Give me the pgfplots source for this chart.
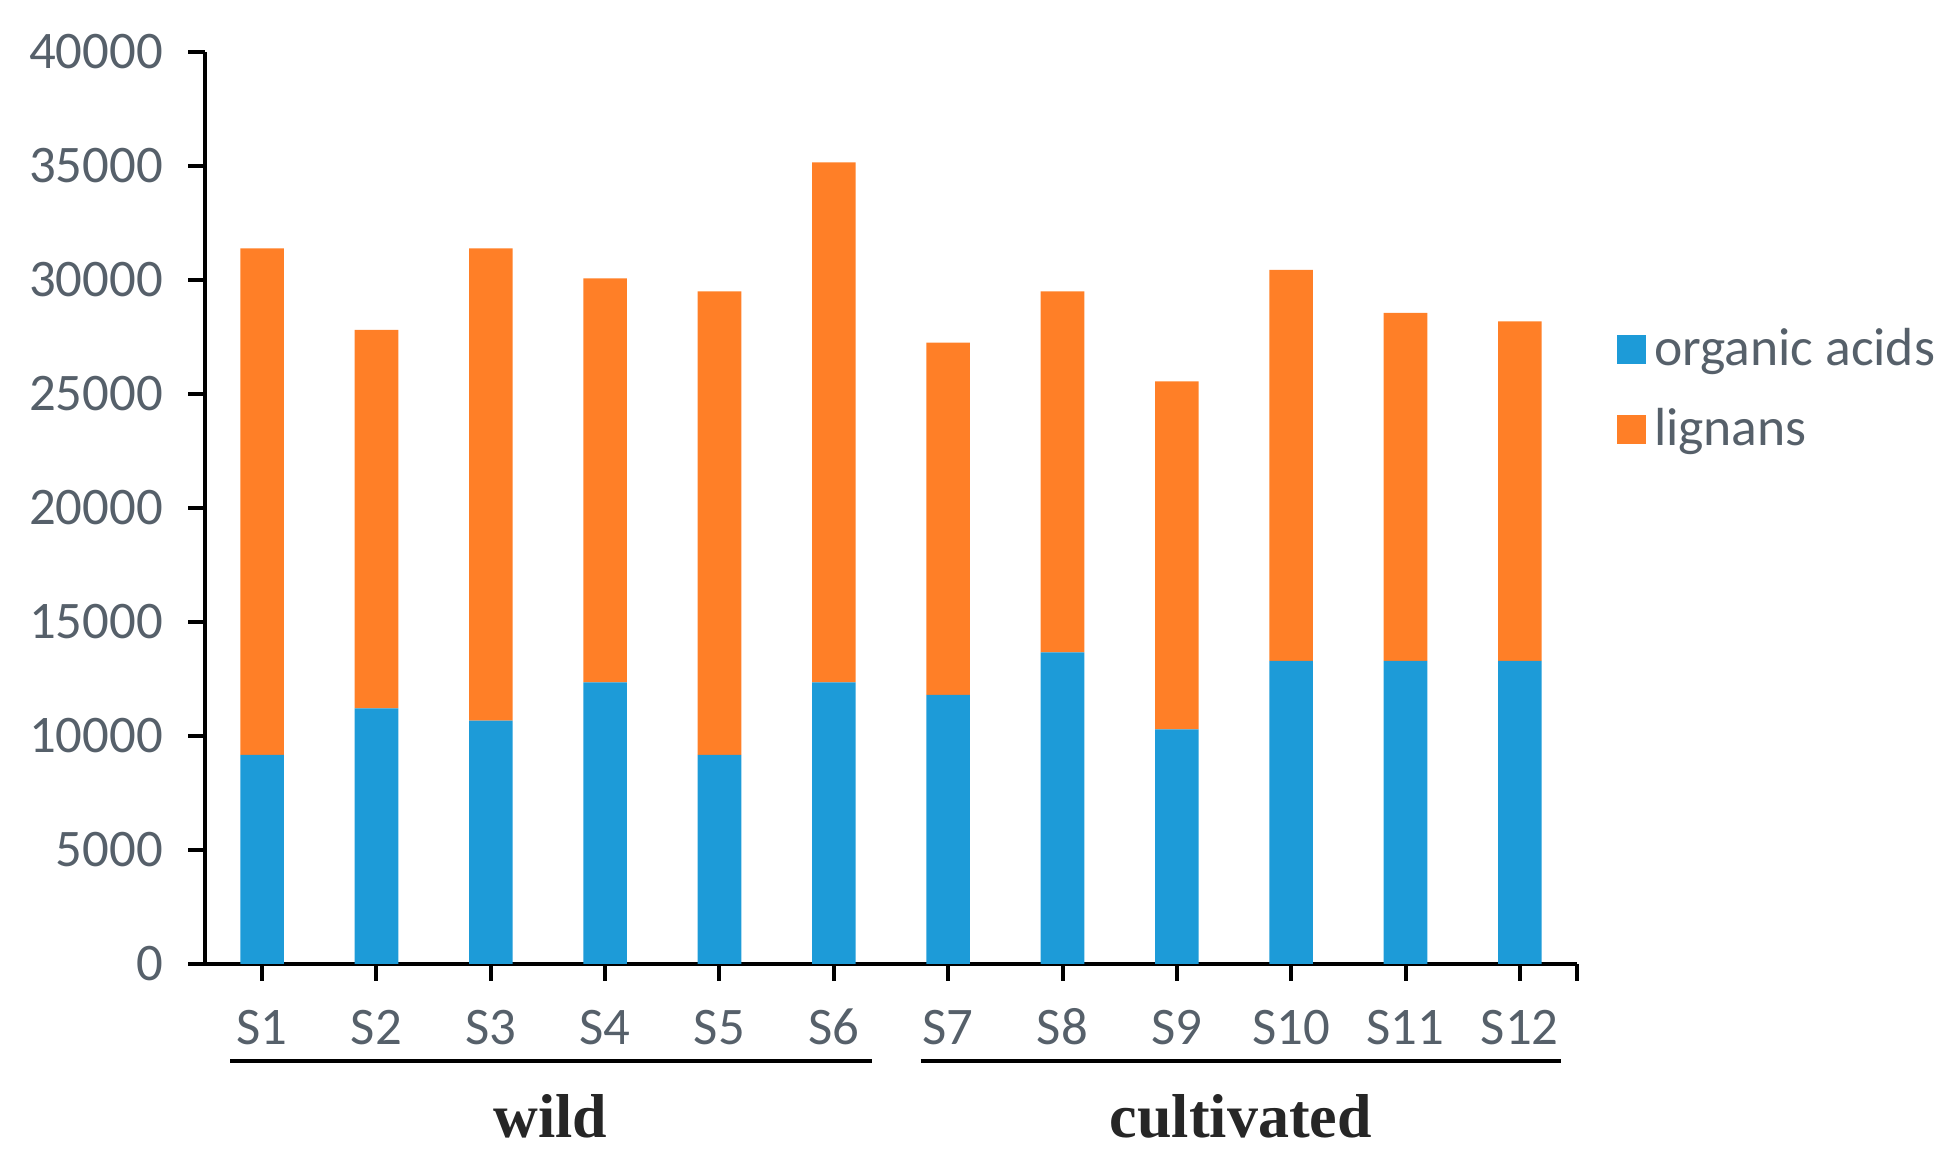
\documentclass[border=0pt]{standalone}
\usepackage{fontspec}
\setmainfont{Carlito}
\newfontfamily\seriffont{Liberation Serif}
\usepackage{pgfplots}
\pgfplotsset{compat=1.18}
\definecolor{oblue}{HTML}{1D9BD8}
\definecolor{oorange}{HTML}{FF7F27}
\definecolor{tgray}{HTML}{56606A}
\begin{document}
\begin{tikzpicture}
\useasboundingbox (-51.25pt,-49.75pt) rectangle (436.5pt,241pt);
\begin{axis}[
  at={(0,0)}, anchor=south west,
  scale only axis, width=343pt, height=228pt,
  ybar stacked, bar width=10.9pt,
  xmin=0.5, xmax=12.5, ymin=0, ymax=40000,
  xtick={1,...,12},
  xticklabels={S1,S2,S3,S4,S5,S6,S7,S8,S9,S10,S11,S12},
  extra x ticks={12.5}, extra x tick labels={},
  ytick={0,5000,...,40000},
  scaled y ticks=false,
  axis lines=left,
  axis line style={-, line width=1pt, black},
  tick align=outside, major tick length=4.2pt,
  tick style={black, line width=1pt},
  tick label style={font=\fontsize{13.2}{15}\selectfont, text=tgray},
  xticklabel style={yshift=-3.5pt, text height=9pt, text depth=0pt},
  yticklabel style={xshift=-2.8pt},
  /pgf/number format/assume math mode=true,
  /pgf/number format/1000 sep={},
  clip=false,
  legend style={draw=none, fill=none, at={(1.02,0.716)}, anchor=north west,
    font=\fontsize{13.4}{15}\selectfont, text=tgray, row sep=5.2pt},
  legend cell align=left,
  legend image code/.code={\fill[#1,draw=none] (0pt,-3.6pt) rectangle (7.2pt,3.6pt);},
  every legend entry/.append style={xshift=1.2pt},
]
\addplot[fill=oblue, draw=none] coordinates {
(1,9167) (2,11213) (3,10672) (4,12354) (5,9167) (6,12354)
(7,11798) (8,13670) (9,10292) (10,13289) (11,13289) (12,13289)};
\addlegendentry{organic acids}
\addplot[fill=oorange, draw=none] coordinates {
(1,22223) (2,16594) (3,20718) (4,17721) (5,20337) (6,22808)
(7,15452) (8,15834) (9,15263) (10,17150) (11,15264) (12,14898)};
\addlegendentry{lignans}
\draw[line width=1pt] ([yshift=-24.25pt]axis cs:0.72,0) -- ([yshift=-24.25pt]axis cs:6.33,0);
\draw[line width=1pt] ([yshift=-24.25pt]axis cs:6.76,0) -- ([yshift=-24.25pt]axis cs:12.36,0);
\node[font=\seriffont\bfseries\fontsize{15.5}{18}\selectfont, text=black!85] at ([yshift=-38pt]axis cs:3.52,0) {wild};
\node[font=\seriffont\bfseries\fontsize{15.5}{18}\selectfont, text=black!85] at ([yshift=-38pt]axis cs:9.56,0) {cultivated};
\end{axis}
\end{tikzpicture}
\end{document}
